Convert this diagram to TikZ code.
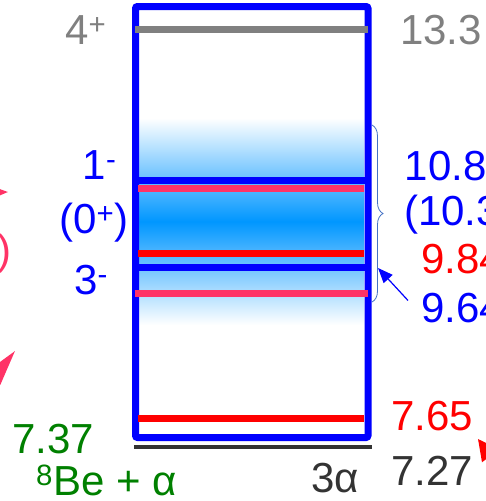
\documentclass[tikz,border=0pt]{standalone}
\usepackage{fontspec}
\setmainfont{Liberation Sans}
\usetikzlibrary{arrows.meta,decorations.pathreplacing}

\definecolor{lvlblue}{RGB}{0,0,255}
\definecolor{lvlpink}{RGB}{255,51,102}
\definecolor{lvlred}{RGB}{255,0,0}
\definecolor{lvlgray}{RGB}{128,128,128}
\definecolor{lvldark}{RGB}{51,51,51}
\definecolor{lvlgreen}{RGB}{0,128,0}
\definecolor{bandblue}{RGB}{0,150,255}
\definecolor{bracecol}{RGB}{68,114,196}

\begin{document}
\begin{tikzpicture}[
  x=1pt, y=-1pt,
  lbl/.style={font=\fontsize{42}{50}\selectfont, inner sep=0pt, anchor=base west},
  lvl/.style={line width=7pt},
  arr/.style={-{Triangle[length=15pt,width=12pt]}, line width=1.2pt, draw=lvlblue},
  parr/.style={line width=2pt, draw=lvlpink, fill=lvlpink},
  rarr/.style={-{Triangle[length=21pt,width=21pt]}, line width=2pt, draw=lvlred, fill=lvlred}
]
  \useasboundingbox (0,0) rectangle (486,501);
  \clip (0,0) rectangle (486,501);

  % 10-11 MeV band
  \shade[top color=white, bottom color=white, middle color=bandblue] (138,118) rectangle (364,325);

  % box of the 3-alpha continuum
  \draw[lvl, draw=lvlblue, rounded corners=2pt] (135.5,6.5) rectangle (368,437.5);

  % levels
  \draw[lvl, draw=lvlgray] (135,29) -- (368,29);
  \draw[lvl, draw=lvlblue, line width=7.5pt] (135.5,180.5) -- (368,180.5);
  \draw[lvl, draw=lvlpink] (138,188) -- (364,188);
  \draw[lvl, draw=lvlred] (138,253) -- (364,253);
  \draw[lvl, draw=lvlblue] (135.5,267.5) -- (368,267.5);
  \draw[lvl, draw=lvlpink] (135,293.5) -- (368,293.5);
  \draw[lvl, draw=lvlred] (138,418.5) -- (364,418.5);
  \draw[line width=3.5pt, draw=lvldark] (134,447) -- (372,447);

  % spins
  \node[lbl, text=lvlgray] (j4) at (65,44) {4\textsuperscript{+}};
  \node[lbl, text=lvlblue] (j1) at (82.5,179) {1\textsuperscript{-}};
  \node[lbl, text=lvlblue] (j0) at (59,233) {(0\textsuperscript{+})};
  \node[lbl, text=lvlblue] (j3) at (74,294) {3\textsuperscript{-}};

  % energies
  \node[lbl, text=lvlgray] (e133) at (400,44) {13.3};
  \node[lbl, text=lvlblue] (e108) at (404.5,180) {10.8};
  \node[lbl, text=lvlblue] (e103) at (404,225) {(10.3)};
  \node[lbl, text=lvlred] (e984) at (421,273) {9.84};
  \node[lbl, text=lvlblue] (e964) at (421,322) {9.64};
  \node[lbl, text=lvlred] (e765) at (391,430) {7.65};
  \node[lbl, text=lvldark] (e727) at (391,485) {7.27};
  \node[lbl, text=lvldark] (th3a) at (311,492) {3α};
  \node[lbl, text=lvlgreen] (e737) at (12,453) {7.37};
  \node[lbl, text=lvlgreen] (thbe) at (36,495) {\textsuperscript{8}Be + α};

  % brace over the broad states
  \draw[bracecol, line width=0.8pt, decorate, decoration={brace, amplitude=11pt}]
    (372,125) -- (372,302);
  \coordinate (aim) at (378,268);
  \draw[arr] ([xshift=-13pt, yshift=-8pt]e964.north west) -- (aim);

  % pieces cut by the frame
  \node[lbl, text=lvlpink, anchor=base east] (jpink) at (11.5,264) {(0\textsuperscript{+})};
  \coordinate (ptipa) at (8,192);
  \coordinate (ptipb) at (15,351);
  \coordinate (rtip) at (478,439);
  \draw[parr, -{Triangle[length=16pt,width=12pt]}] (-60,194) -- (ptipa);
  \draw[parr, -{Triangle[length=36pt,width=19pt]}] (-45,426) -- (ptipb);
  \draw[rarr] (526,503) -- (rtip);
\end{tikzpicture}
\end{document}
